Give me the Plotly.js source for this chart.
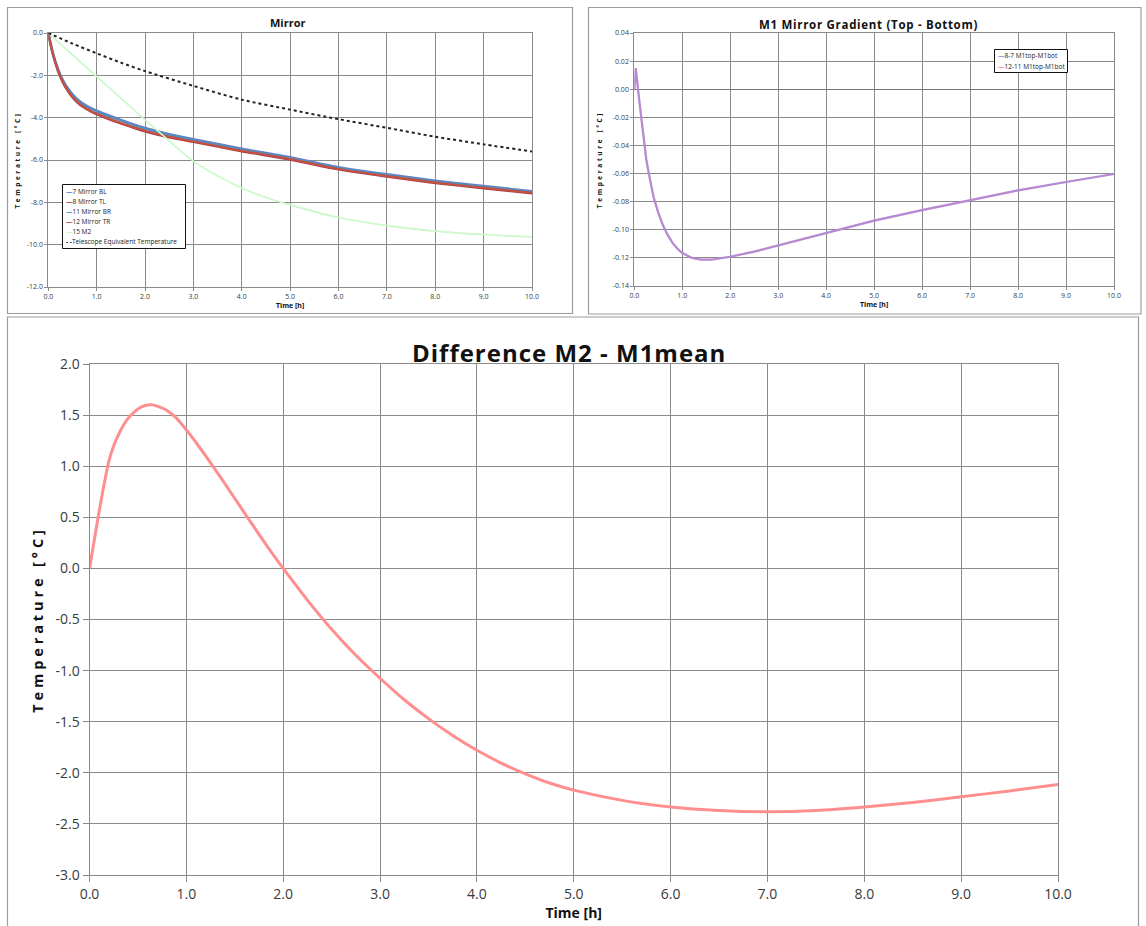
<!DOCTYPE html>
<html>
<head>
<meta charset="utf-8">
<script src="https://cdn.plot.ly/plotly-3.0.1.min.js"></script>
<style>
html,body{margin:0;padding:0;background:#fff;}
#chart{width:1146px;height:926px;}
.ytitle,.y2title{letter-spacing:2.6px;}
.y3title{letter-spacing:3.9px;}
text[data-unformatted="Difference M2 - M1mean"]{letter-spacing:1px;}
text[data-unformatted="M1 Mirror Gradient (Top - Bottom)"]{letter-spacing:0.7px;}
</style>
</head>
<body>
<div id="chart"></div>
<script>
// ---------- Data: panel "Mirror" ----------
const mirrorTime = [0,0.05,0.1,0.15,0.2,0.25,0.3,0.4,0.5,0.6,0.7,0.8,0.9,1.0,1.25,1.5,1.75,2.0,2.5,3.0,4.0,5.0,6.0,7.0,8.0,9.0,10.0];
const mirrorBL   = [0,-0.55,-1.0,-1.38,-1.7,-1.98,-2.22,-2.6,-2.9,-3.13,-3.31,-3.45,-3.57,-3.67,-3.9,-4.11,-4.31,-4.49,-4.78,-5.02,-5.47,-5.87,-6.34,-6.68,-6.98,-7.23,-7.48];
const mirrorTL   = [0,-0.57,-1.04,-1.44,-1.78,-2.07,-2.32,-2.72,-3.03,-3.27,-3.46,-3.6,-3.73,-3.83,-4.06,-4.27,-4.46,-4.64,-4.92,-5.14,-5.58,-5.97,-6.44,-6.78,-7.08,-7.33,-7.57];
const mirrorBR   = [0,-0.56,-1.02,-1.4,-1.72,-2.0,-2.25,-2.63,-2.93,-3.16,-3.34,-3.48,-3.6,-3.7,-3.93,-4.14,-4.34,-4.52,-4.81,-5.05,-5.5,-5.9,-6.37,-6.71,-7.01,-7.26,-7.51];
const mirrorTR   = [0,-0.56,-1.03,-1.42,-1.76,-2.05,-2.3,-2.7,-3.01,-3.25,-3.44,-3.58,-3.71,-3.81,-4.04,-4.25,-4.44,-4.62,-4.9,-5.12,-5.56,-5.95,-6.42,-6.76,-7.06,-7.31,-7.55];
const m2Time     = [0,0.5,1,1.5,2,2.5,2.75,3,3.5,4,4.5,5,6,7,8,9,10];
const m2Temp     = [0,-1.03,-2.06,-3.08,-4.1,-5.1,-5.6,-6.05,-6.75,-7.32,-7.77,-8.12,-8.72,-9.1,-9.36,-9.52,-9.64];
const teqTime    = [0,0.5,1,1.5,2,3,4,5,6,7,8,9,10];
const teqTemp    = [0,-0.5,-0.96,-1.4,-1.8,-2.5,-3.15,-3.62,-4.07,-4.48,-4.9,-5.26,-5.6];
const mirrorNames  = ["7 Mirror BL","8 Mirror TL","11 Mirror BR","12 Mirror TR","15 M2","Telescope Equivalent Temperature"];
const mirrorColors = ["#6f80c0","#a8404e","#4a8fc4","#c8503e","#c8f8c8","#222222"];
const mirrorYTicks = [0,-2,-4,-6,-8,-10,-12];

// ---------- Data: panel "M1 Mirror Gradient" ----------
const gradTime  = [0,0.03,0.1,0.15,0.2,0.25,0.3,0.35,0.4,0.5,0.6,0.7,0.8,0.9,1.0,1.2,1.4,1.6,1.8,2.0,2.5,3,3.5,4,5,6,7,8,9,10];
const grad87    = [0,0.015,-0.007,-0.023,-0.038,-0.05,-0.0595,-0.068,-0.0765,-0.088,-0.097,-0.104,-0.1095,-0.1135,-0.1165,-0.12,-0.1213,-0.1213,-0.1205,-0.1192,-0.1155,-0.111,-0.1065,-0.102,-0.0935,-0.086,-0.079,-0.072,-0.066,-0.0603];
const grad1211  = [0,0.015,-0.007,-0.023,-0.038,-0.05,-0.0595,-0.068,-0.0765,-0.088,-0.097,-0.104,-0.1095,-0.1135,-0.1165,-0.12,-0.1213,-0.1213,-0.1205,-0.1192,-0.1155,-0.111,-0.1065,-0.102,-0.0935,-0.086,-0.079,-0.072,-0.066,-0.0603];
const gradNames  = ["8-7 M1top-M1bot","12-11 M1top-M1bot"];
const gradColors = ["#9a88ee","#ff8a8a"];
const gradYTicks = [0.04,0.02,0,-0.02,-0.04,-0.06,-0.08,-0.10,-0.12,-0.14];

// ---------- Data: panel "Difference M2 - M1mean" ----------
const diffTime = [0,0.05,0.1,0.15,0.2,0.25,0.3,0.35,0.4,0.45,0.5,0.55,0.6,0.65,0.7,0.8,0.9,1.0,1.1,1.2,1.3,1.4,1.5,1.6,1.7,1.8,1.9,2.0,2.25,2.5,2.75,3.0,3.25,3.5,3.75,4.0,4.25,4.5,4.75,5.0,5.5,6,6.5,7,7.5,8,8.5,9,9.5,10];
const diffTemp = [0,0.28,0.56,0.82,1.05,1.2,1.31,1.4,1.47,1.52,1.56,1.585,1.598,1.6,1.5875,1.545,1.4675,1.355,1.232,1.1,0.965,0.826,0.684,0.543,0.403,0.264,0.129,0,-0.31,-0.595,-0.85,-1.075,-1.285,-1.47,-1.635,-1.78,-1.905,-2.01,-2.1,-2.17,-2.27,-2.335,-2.37,-2.382,-2.37,-2.335,-2.29,-2.235,-2.177,-2.115];
const diffYTicks = [2.0,1.5,1.0,0.5,0,-0.5,-1.0,-1.5,-2.0,-2.5,-3.0];
const timeTicks = [0,1,2,3,4,5,6,7,8,9,10];

// ---------- Styling ----------
const W = 1146, H = 926;
const FONT = "Open Sans, Liberation Sans, sans-serif";
const GRID = "#8a8a8a";
const TXT = "#3a3a3a";
const px = v => v / W;
const py = v => 1 - v / H;
const lbl = (vals, d) => vals.map(v => v.toFixed(d));

function xAxis(domain, anchor, fs, tl, titleFs, standoff) {
  return {
    domain: domain, anchor: anchor, range: [0, 10],
    tickvals: timeTicks, ticktext: lbl(timeTicks, 1),
    showgrid: true, gridcolor: GRID, gridwidth: 1,
    showline: true, linecolor: GRID, linewidth: 1, mirror: true,
    ticks: "outside", ticklen: tl, tickcolor: GRID, zeroline: false,
    tickfont: {family: FONT, size: fs, color: TXT},
    title: {text: "Time [h]", standoff: standoff, font: {family: FONT, size: titleFs, color: "#111", weight: "bold"}},
    fixedrange: true
  };
}
function yAxis(domain, anchor, range, vals, dec, fs, tl, titleFs, standoff, zl) {
  return {
    domain: domain, anchor: anchor, range: range,
    tickvals: vals, ticktext: lbl(vals, dec),
    showgrid: true, gridcolor: GRID, gridwidth: 1,
    showline: true, linecolor: GRID, linewidth: 1, mirror: true,
    ticks: "outside", ticklen: tl, tickcolor: GRID,
    zeroline: !!zl, zerolinecolor: "#767676", zerolinewidth: 1.4,
    tickfont: {family: FONT, size: fs, color: TXT},
    title: {text: "Temperature [°C]", standoff: standoff, font: {family: FONT, size: titleFs, color: "#111", weight: "bold"}},
    fixedrange: true
  };
}

// ---------- Traces ----------
const traces = [];
const mirrorSeries = [
  [mirrorTime, mirrorBL, 2.6, "solid"],
  [mirrorTime, mirrorTL, 2.6, "solid"],
  [mirrorTime, mirrorBR, 2.0, "solid"],
  [mirrorTime, mirrorTR, 2.0, "solid"],
  [m2Time, m2Temp, 1.6, "solid"],
  [teqTime, teqTemp, 2.0, "dot"]
];
mirrorSeries.forEach((s, i) => {
  traces.push({x: s[0], y: s[1], name: mirrorNames[i], xaxis: "x", yaxis: "y", mode: "lines",
    line: {color: mirrorColors[i], width: s[2], dash: s[3], shape: "spline", smoothing: 0.8}});
});
traces.push({x: gradTime, y: grad87, name: gradNames[0], xaxis: "x2", yaxis: "y2", mode: "lines",
  line: {color: gradColors[0], width: 2.2}});
traces.push({x: gradTime, y: grad1211, name: gradNames[1], xaxis: "x2", yaxis: "y2", mode: "lines", opacity: 0.3,
  line: {color: gradColors[1], width: 2.2}});
traces.push({x: diffTime, y: diffTemp, name: "M2 - M1mean", xaxis: "x3", yaxis: "y3", mode: "lines",
  line: {color: "#ff8e8e", width: 3, shape: "spline", smoothing: 0.6}});

// ---------- Panel frames, legends (from names/colours), titles ----------
const shapes = [
  {type: "rect", xref: "paper", yref: "paper", x0: px(7.5), x1: px(572.5), y0: py(313.5), y1: py(7.5), line: {color: "#9c9c9c", width: 1.2}, layer: "below"},
  {type: "rect", xref: "paper", yref: "paper", x0: px(588.5), x1: px(1141), y0: py(314), y1: py(7.5), line: {color: "#9c9c9c", width: 1.2}, layer: "below"},
  {type: "rect", xref: "paper", yref: "paper", x0: px(7.5), x1: px(1138.5), y0: py(935), y1: py(317), line: {color: "#9c9c9c", width: 1.2}, layer: "below"},
  {type: "rect", xref: "paper", yref: "paper", x0: px(62.5), x1: px(185.5), y0: py(248.5), y1: py(184.5), line: {color: "#111", width: 1}, fillcolor: "#fff", layer: "above"},
  {type: "rect", xref: "paper", yref: "paper", x0: px(994.5), x1: px(1067.5), y0: py(72.5), y1: py(49.5), line: {color: "#111", width: 1}, fillcolor: "#fff", layer: "above"}
];
const annotations = [];
mirrorNames.forEach((n, i) => {
  const mark = i === 5 ? '<b>- -</b>' : '<b>—</b>';
  annotations.push({xref: "paper", yref: "paper", x: px(64), y: py(191.7 + 10 * i), xanchor: "left", yanchor: "middle",
    showarrow: false, text: '<span style="color:' + mirrorColors[i] + '">' + mark + '</span>' + n,
    font: {family: FONT, size: 6.5, color: "#222"}});
});
gradNames.forEach((n, i) => {
  annotations.push({xref: "paper", yref: "paper", x: px(996), y: py(55.8 + 10.3 * i), xanchor: "left", yanchor: "middle",
    showarrow: false, text: '<span style="color:' + gradColors[i] + '"><b>—</b></span>' + n,
    font: {family: FONT, size: 6.5, color: "#222"}});
});
annotations.push({xref: "paper", yref: "paper", x: px(288), y: py(22), xanchor: "center", yanchor: "middle", showarrow: false,
  text: "Mirror", font: {family: FONT, size: 11, color: "#111", weight: "bold"}});
annotations.push({xref: "paper", yref: "paper", x: px(868), y: py(24), xanchor: "center", yanchor: "middle", showarrow: false,
  text: "M1 Mirror Gradient (Top - Bottom)", font: {family: FONT, size: 11.5, color: "#111", weight: "bold"}});
annotations.push({xref: "paper", yref: "paper", x: px(569), y: py(352), xanchor: "center", yanchor: "middle", showarrow: false,
  text: "Difference M2 - M1mean", font: {family: FONT, size: 24, color: "#111", weight: "bold"}});

const layout = {
  width: W, height: H, margin: {l: 0, r: 0, t: 0, b: 0},
  paper_bgcolor: "#fff", plot_bgcolor: "#fff", showlegend: false,
  font: {family: FONT, color: TXT},
  xaxis:  xAxis([px(48.3), px(532)], "y", 7, 3, 7, 0),
  yaxis:  yAxis([py(287), py(33)], "x", [-12, 0], mirrorYTicks, 1, 7, 3, 6.5, 5, false),
  xaxis2: xAxis([px(634.3), px(1114)], "y2", 7, 3, 7, 0),
  yaxis2: yAxis([py(286), py(33)], "x2", [-0.14, 0.04], gradYTicks, 2, 7, 3, 6.5, 9, true),
  xaxis3: xAxis([px(89.5), px(1058)], "y3", 14, 6, 14, 0),
  yaxis3: yAxis([py(875), py(364)], "x3", [-3, 2], diffYTicks, 1, 14, 6, 14.5, 8, false),
  shapes: shapes, annotations: annotations
};

Plotly.newPlot("chart", traces, layout, {staticPlot: true, displayModeBar: false});
</script>
</body>
</html>
